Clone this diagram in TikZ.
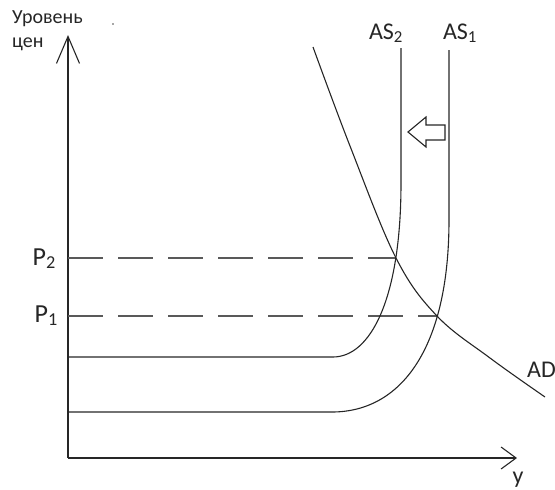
\documentclass[tikz,border=0pt]{standalone}
\usepackage{fontspec}
\setmainfont{Carlito}
\usepackage{tikz}
\usetikzlibrary{arrows.meta}

\begin{document}
\begin{tikzpicture}[
  x=1pt, y=-1pt,
  axis/.style={line width=1.3pt, black!85},
  curve/.style={line width=1.1pt, black!85},
  guide/.style={line width=1.6pt, black!65, dash pattern=on 35pt off 15pt},
  lbl/.style={inner sep=0pt, text=black!85, font=\fontsize{24}{28}\selectfont},
  small/.style={inner sep=0pt, text=black!85, font=\fontsize{20}{24}\selectfont}
]
\useasboundingbox (0,0) rectangle (555,490);
% axes
\coordinate (O) at (68,458);
\coordinate (ytip) at (68,35);
\coordinate (xtip) at (517,458);
\draw[axis, -{Straight Barb[length=27pt, width=23pt, line width=1.1pt]}] (O) -- (ytip);
\draw[axis, -{Straight Barb[length=15pt, width=22pt, line width=1.1pt]}] (O) -- (xtip);
\node[small, anchor=base west] (lvl) at (12,23) {Уровень};
\node[small, anchor=base west] (cen) at (12,47) {цен};
\fill[black!70] (113,24) circle (0.9);
\node[lbl, anchor=base] (ylbl) at (518,483) {у};
% equilibrium points
\coordinate (E2) at (396,258);
\coordinate (E1) at (437,316);
\draw[guide] (O |- E2) -- (E2);
\draw[guide] (O |- E1) -- (E1);
\node[lbl, font=\fontsize{26}{30}\selectfont, anchor=base east] (p2) at (56,265) {P\textsubscript{2}};
\node[lbl, font=\fontsize{26}{30}\selectfont, anchor=base east] (p1) at (58,322) {P\textsubscript{1}};
% supply curves
\draw[curve] (401,48) -- (401,183) .. controls (401,300) and (370,357) .. (333,357) -- (O |- 333,357);
\draw[curve] (449,50) -- (449,220) .. controls (449,350) and (400,412) .. (332,412) -- (O |- 332,412);
\node[lbl, anchor=base] (as2) at (386,39) {AS\textsubscript{2}};
\node[lbl, anchor=base] (as1) at (460,39) {AS\textsubscript{1}};
% demand curve
\draw[curve] plot[smooth, tension=0.6] coordinates {(313,47) (350,146) (E2) (E1) (490,358) (545,397)};
\node[lbl, anchor=base west] (ad) at (527,377) {AD};
% shift arrow
\draw[line width=1.1pt, black!85, fill=white] (408,132) -- (426,117) -- (426,125) -- (445,125)
  -- (445,140) -- (426,140) -- (426,147) -- cycle;
\end{tikzpicture}
\end{document}
